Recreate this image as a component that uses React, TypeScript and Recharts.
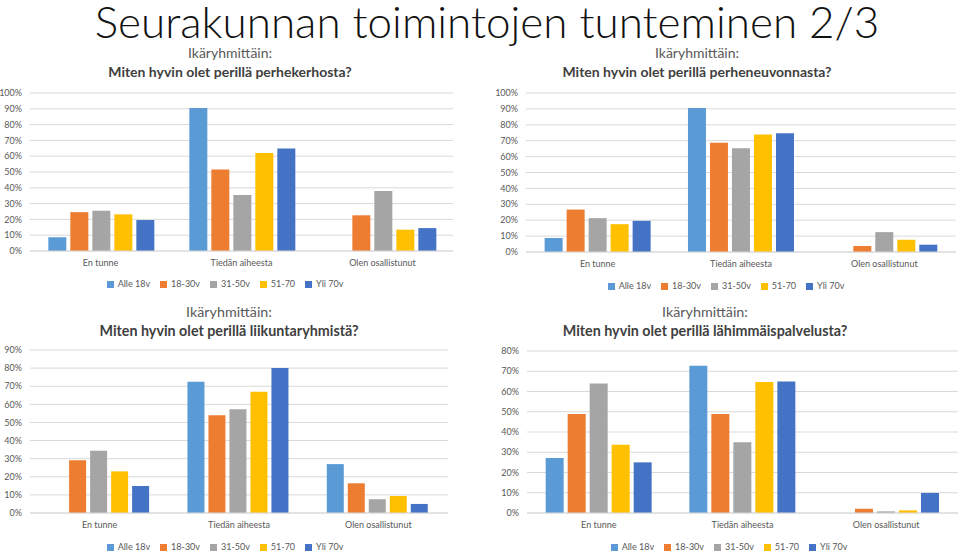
import { BarChart, Bar, XAxis, YAxis, CartesianGrid, Legend } from 'recharts';

const categories = ['En tunne', 'Tiedän aiheesta', 'Olen osallistunut'];
const seriesNames = ['Alle 18v', '18-30v', '31-50v', '51-70', 'Yli 70v'];
const seriesColors = ['#5B9BD5', '#ED7D31', '#A5A5A5', '#FFC000', '#4472C4'];

// perhekerho
const kerhoAlle18 = [8.7, 90.5, 0];
const kerho18to30 = [24.6, 51.6, 22.6];
const kerho31to50 = [25.5, 35.4, 37.9];
const kerho51to70 = [23.2, 62.1, 13.5];
const kerhoYli70 = [19.6, 64.9, 14.5];

// perheneuvonta
const neuvoAlle18 = [8.8, 90.6, 0];
const neuvo18to30 = [26.7, 68.7, 3.8];
const neuvo31to50 = [21.3, 65.2, 12.5];
const neuvo51to70 = [17.5, 73.9, 7.7];
const neuvoYli70 = [19.6, 74.7, 4.6];

// liikuntaryhmät
const liikuntaAlle18 = [0, 72.5, 27];
const liikunta18to30 = [29.1, 54, 16.4];
const liikunta31to50 = [34.4, 57.3, 7.6];
const liikunta51to70 = [23, 67, 9.4];
const liikuntaYli70 = [14.9, 80, 5];

// lähimmäispalvelu
const lahiAlle18 = [27.2, 72.7, 0];
const lahi18to30 = [48.9, 48.9, 2.1];
const lahi31to50 = [63.9, 34.9, 0.8];
const lahi51to70 = [33.7, 64.7, 1.3];
const lahiYli70 = [25, 65, 9.9];

const ticks100 = [0, 10, 20, 30, 40, 50, 60, 70, 80, 90, 100];
const ticks90 = [0, 10, 20, 30, 40, 50, 60, 70, 80, 90];
const ticks80 = [0, 10, 20, 30, 40, 50, 60, 70, 80];

const FONT = 'Lato, "Noto Sans", sans-serif';

function buildRows(series: number[][]) {
  return categories.map((name, i) => {
    const row: Record<string, string | number> = { name };
    seriesNames.forEach((s, j) => {
      row[s] = series[j][i];
    });
    return row;
  });
}

interface PanelProps {
  left: number;
  top: number;
  width: number;
  height: number;
  yWidth: number;
  margin: { top: number; right: number; bottom: number; left: number };
  ticks: number[];
  series: number[][];
  xHeight: number;
  legendLeft: number;
  legendWidth: number;
}

function Panel(p: PanelProps) {
  const data = buildRows(p.series);
  return (
    <div style={{ position: 'absolute', left: p.left, top: p.top }}>
      <BarChart
        width={p.width}
        height={p.height}
        data={data}
        margin={p.margin}
        barCategoryGap="13%"
        barGap={4}
      >
        <CartesianGrid vertical={false} stroke="#D9D9D9" />
        <XAxis
          dataKey="name"
          height={p.xHeight}
          tickLine={false}
          tickSize={0}
          tickMargin={9}
          axisLine={{ stroke: '#D9D9D9' }}
          tick={{ fontSize: 9, fill: '#595959', fontFamily: FONT }}
        />
        <YAxis
          width={p.yWidth}
          domain={[0, p.ticks[p.ticks.length - 1]]}
          ticks={p.ticks}
          interval={0}
          tickFormatter={(v: number) => `${v}%`}
          axisLine={false}
          tickLine={false}
          tickSize={0}
          tickMargin={8}
          tick={{ fontSize: 9, fill: '#595959', fontFamily: FONT }}
        />
        <Legend
          verticalAlign="bottom"
          align="center"
          iconType="square"
          iconSize={7}
          height={14}
          itemSorter={(item: { value: string }) => seriesNames.indexOf(item.value)}
          wrapperStyle={{
            left: p.legendLeft,
            width: p.legendWidth,
            fontSize: 9,
            fontFamily: FONT,
            lineHeight: '14px',
          }}
          formatter={(value: string) => <span style={{ color: '#595959' }}>{value}</span>}
        />
        {seriesNames.map((s, j) => (
          <Bar key={s} dataKey={s} name={s} fill={seriesColors[j]} isAnimationActive={false} />
        ))}
      </BarChart>
    </div>
  );
}

function Heading({ cx, top, size, question }: { cx: number; top: number; size: number; question: string }) {
  return (
    <div
      style={{
        position: 'absolute',
        left: cx - 240,
        top,
        width: 480,
        textAlign: 'center',
        fontFamily: FONT,
        fontSize: size,
        lineHeight: `${Math.round(size * 1.35)}px`,
      }}
    >
      <div style={{ color: '#595959' }}>Ikäryhmittäin:</div>
      <div style={{ color: '#404040', fontWeight: 700 }}>{question}</div>
    </div>
  );
}

export default function App() {
  return (
    <div
      style={{
        position: 'absolute',
        left: 0,
        top: 0,
        width: 960,
        height: 552,
        overflow: 'hidden',
        background: '#fff',
      }}
    >
      <div
        style={{
          position: 'absolute',
          left: 0,
          top: 0,
          width: 960,
          boxSizing: 'border-box',
          paddingLeft: 14,
          textAlign: 'center',
          fontFamily: FONT,
          fontWeight: 300,
          fontSize: 44,
          color: '#111',
          lineHeight: '42px',
          whiteSpace: 'nowrap',
        }}
      >
        Seurakunnan toimintojen tunteminen 2/3
      </div>
      <Heading cx={230} top={43} size={14} question="Miten hyvin olet perillä perhekerhosta?" />
      <Heading cx={697} top={43} size={14} question="Miten hyvin olet perillä perheneuvonnasta?" />
      <Heading cx={229} top={302} size={14.3} question="Miten hyvin olet perillä liikuntaryhmistä?" />
      <Heading cx={705} top={302} size={14.3} question="Miten hyvin olet perillä lähimmäispalvelusta?" />

      <Panel
        left={0}
        top={85}
        width={460}
        height={215}
        yWidth={30}
        xHeight={26}
        margin={{ top: 8, right: 7, bottom: 9, left: 0 }}
        ticks={ticks100}
        series={[kerhoAlle18, kerho18to30, kerho31to50, kerho51to70, kerhoYli70]}
        legendLeft={0}
        legendWidth={460}
      />
      <Panel
        left={480}
        top={85}
        width={480}
        height={217}
        yWidth={46}
        xHeight={27}
        margin={{ top: 8, right: 4, bottom: 9, left: 0 }}
        ticks={ticks100}
        series={[neuvoAlle18, neuvo18to30, neuvo31to50, neuvo51to70, neuvoYli70]}
        legendLeft={22}
        legendWidth={458}
      />
      <Panel
        left={0}
        top={342}
        width={460}
        height={212}
        yWidth={30}
        xHeight={27}
        margin={{ top: 8, right: 12, bottom: 0, left: 0 }}
        ticks={ticks90}
        series={[liikuntaAlle18, liikunta18to30, liikunta31to50, liikunta51to70, liikuntaYli70]}
        legendLeft={0}
        legendWidth={460}
      />
      <Panel
        left={480}
        top={343}
        width={484}
        height={211}
        yWidth={47}
        xHeight={27}
        margin={{ top: 8, right: 6, bottom: 0, left: 0 }}
        ticks={ticks80}
        series={[lahiAlle18, lahi18to30, lahi31to50, lahi51to70, lahiYli70]}
        legendLeft={24}
        legendWidth={460}
      />
    </div>
  );
}
